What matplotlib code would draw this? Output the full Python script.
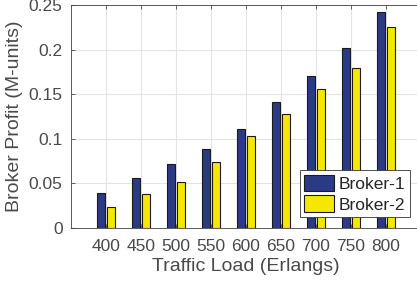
import matplotlib
matplotlib.use("Agg")
import matplotlib.pyplot as plt
import numpy as np

plt.rcParams["font.family"] = ["Liberation Sans", "DejaVu Sans"]

loads = [400, 450, 500, 550, 600, 650, 700, 750, 800]
broker1 = [0.039, 0.0557, 0.0714, 0.0882, 0.111, 0.141, 0.1708, 0.2018, 0.2422]
broker2 = [0.024, 0.0378, 0.0512, 0.0737, 0.1028, 0.1278, 0.1562, 0.179, 0.2253]

text_color = "#4a4a4a"
x = np.array(loads, dtype=float)
width = 12
offset = 7

fig = plt.figure(figsize=(4.17, 2.88), dpi=100)
ax = fig.add_axes([71 / 417, 1 - 228 / 288, 350 / 417, 223 / 288])

ax.bar(x - offset, broker1, width, color="#2B3A85", edgecolor="#1a1a1a",
       linewidth=0.8, label="Broker-1", zorder=3)
ax.bar(x + offset, broker2, width, color="#F5E800", edgecolor="#1a1a1a",
       linewidth=0.8, label="Broker-2", zorder=3)

ax.set_xlim(350, 850)
ax.set_ylim(0, 0.25)
ax.set_xticks(loads)
ax.set_yticks([0, 0.05, 0.1, 0.15, 0.2, 0.25])
ax.set_yticklabels(["0", "0.05", "0.1", "0.15", "0.2", "0.25"])
ax.grid(True, color="#e3e3e3", linewidth=0.8, zorder=0)
ax.set_axisbelow(True)

ax.tick_params(direction="in", top=True, right=True, length=3,
               labelsize=12.5, colors=text_color, width=0.6)
ax.tick_params(axis="x", pad=8)
ax.tick_params(axis="y", pad=6)
for s in ax.spines.values():
    s.set_color("#404040")
    s.set_linewidth(0.6)

ax.set_xlabel("Traffic Load (Erlangs)", fontsize=14, color=text_color,
              labelpad=3)
ax.set_ylabel("Broker Profit (M-units)", fontsize=14, color=text_color,
              labelpad=4)

leg = ax.legend(loc="lower right", bbox_to_anchor=(410 / 417, 71 / 288),
                bbox_transform=fig.transFigure, fontsize=12.5, fancybox=False,
                framealpha=1, edgecolor="#333333", handlelength=1.7,
                handleheight=1.1, handletextpad=0.3, borderpad=0.25,
                labelspacing=0.2, borderaxespad=0)
leg.get_frame().set_linewidth(0.6)
for t in leg.get_texts():
    t.set_color("#262626")

fig.savefig("out.png", dpi=100)
